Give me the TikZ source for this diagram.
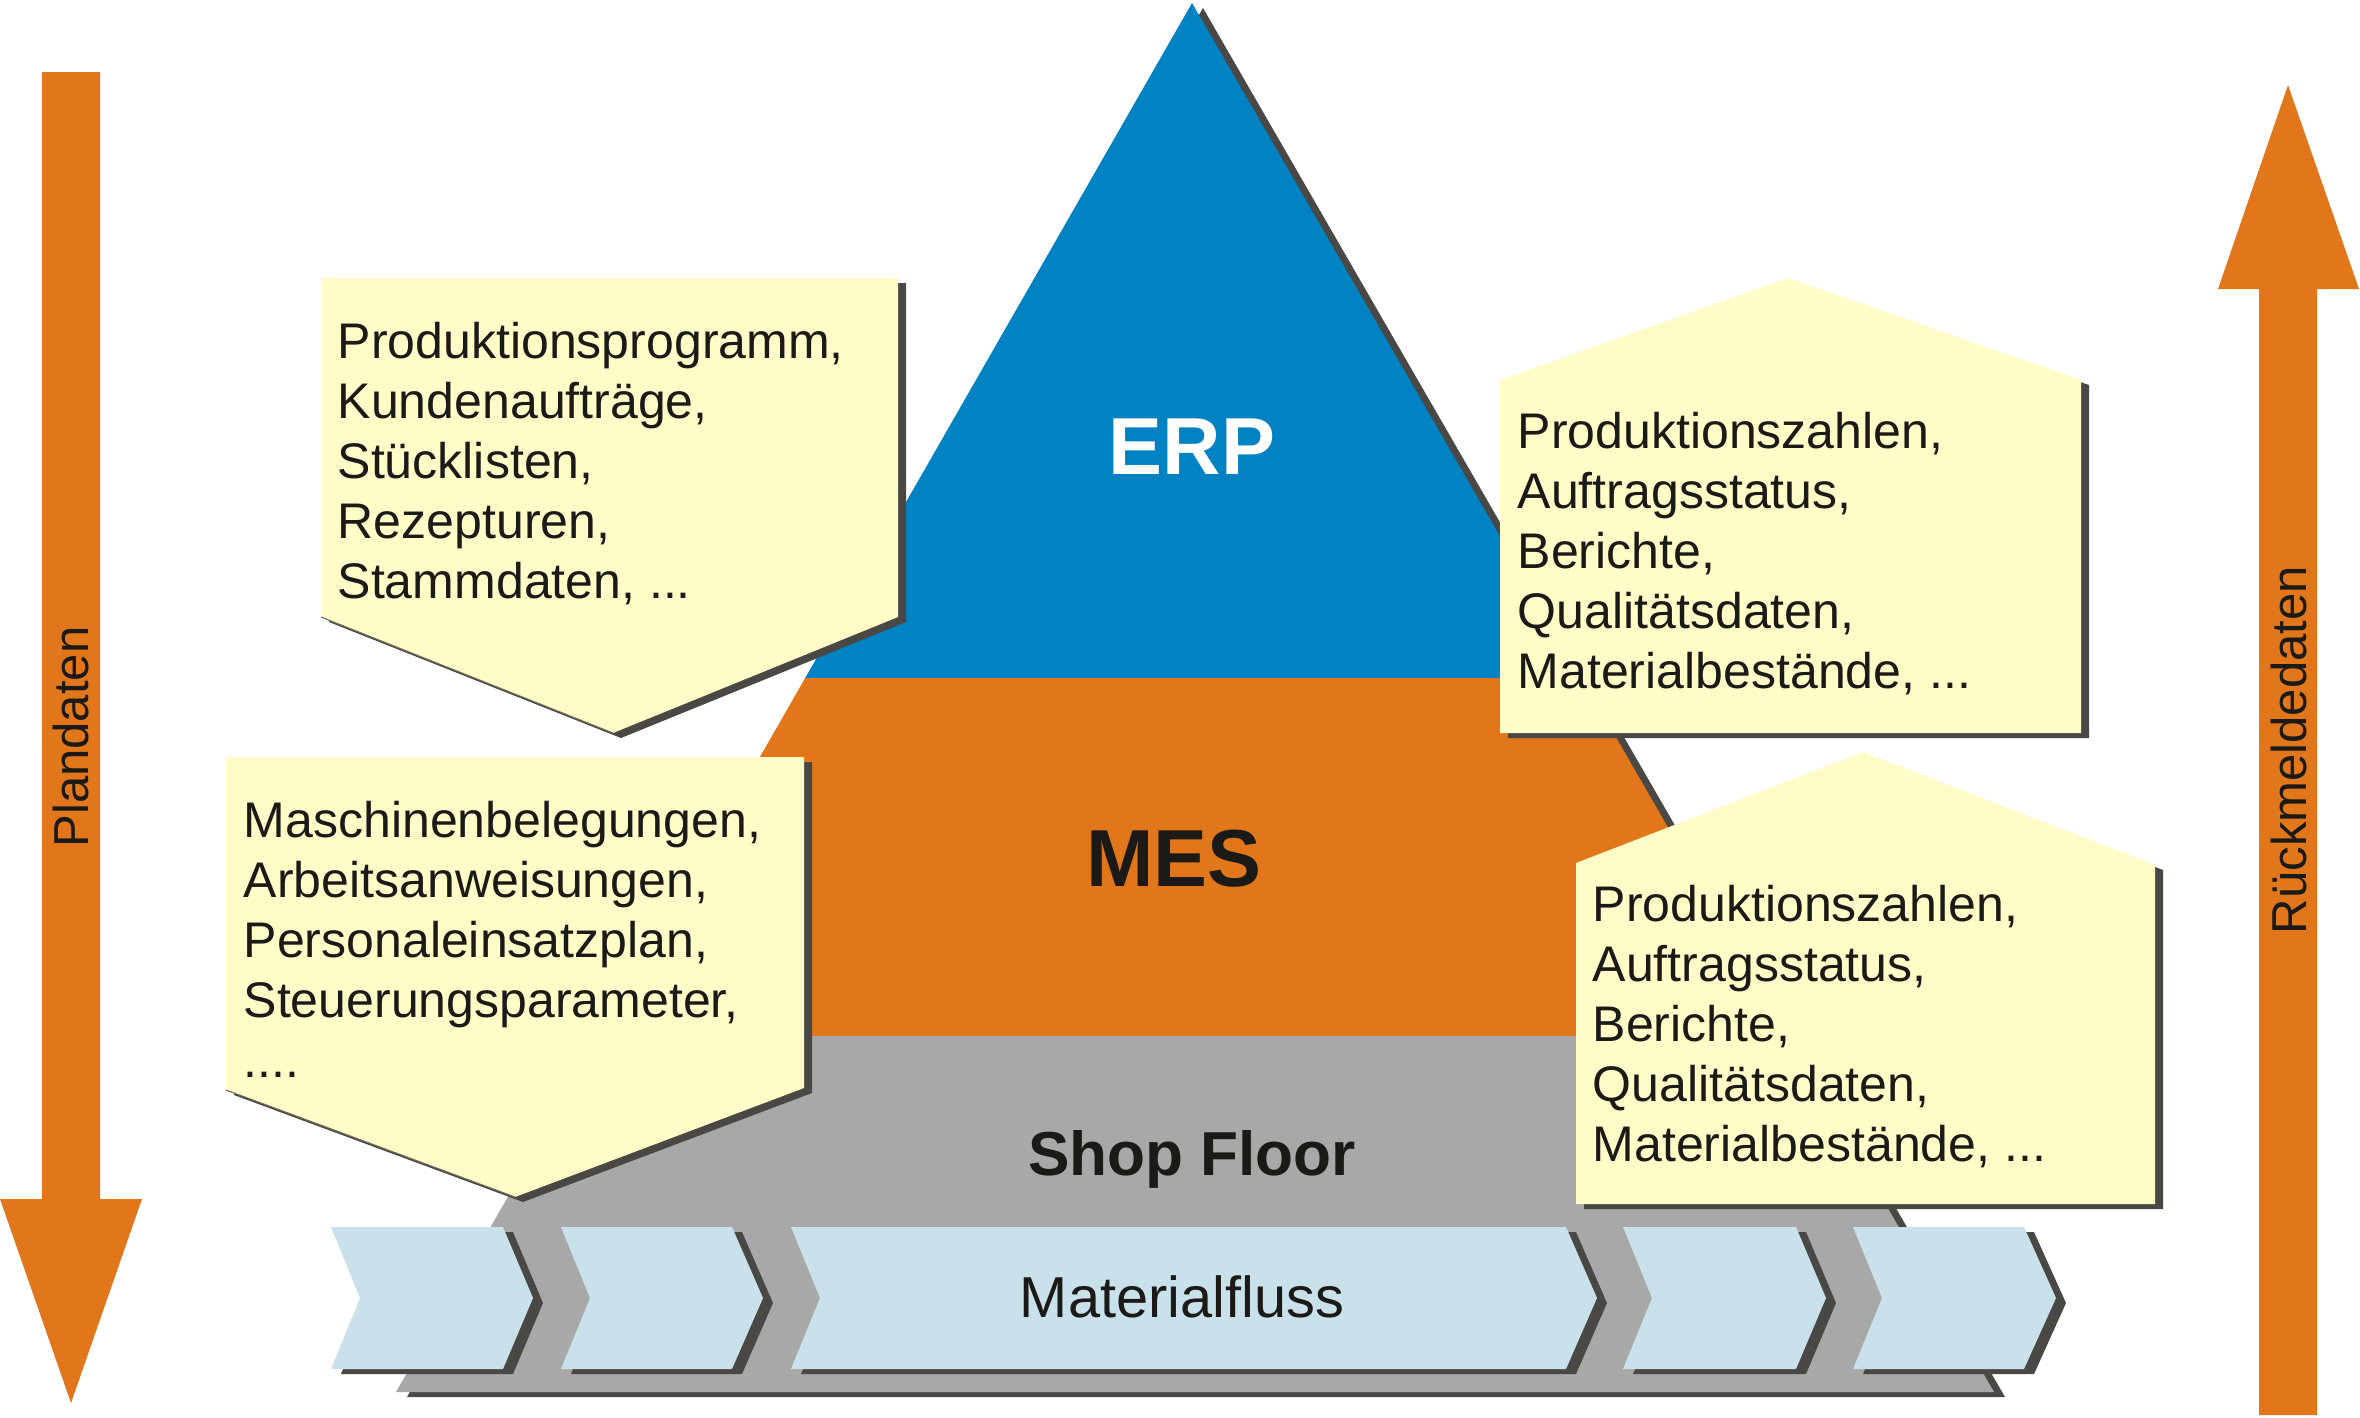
\documentclass[tikz,border=0pt]{standalone}
\usepackage{fontspec}
\setmainfont{Liberation Sans}
\usetikzlibrary{calc}
\definecolor{cOrange}{HTML}{E1771A}
\definecolor{cBlue}{HTML}{0082C3}
\definecolor{cGray}{HTML}{A8A8A8}
\definecolor{cShadow}{HTML}{4A4845}
\definecolor{cYellow}{HTML}{FFFCC7}
\definecolor{cLight}{HTML}{C8E1EA}
\definecolor{cText}{HTML}{1C1A17}
\definecolor{cEdge}{HTML}{6E6A58}
\tikzset{
  calltext/.style={anchor=base west, inner sep=0pt, text=cText,
    font=\fontsize{14.23pt}{17.07pt}\selectfont},
  arrowtext/.style={rotate=90, inner sep=0pt, text=cText,
    font=\fontsize{13.95pt}{16pt}\selectfont},
  layertext/.style={inner sep=0pt, font=\bfseries\fontsize{23pt}{23pt}\selectfont},
}
\newcommand\mychev[3]{%
  \fill[cShadow] ({#1+10},1232) -- ({#2+10},1232) -- ({#3+10},1303) -- ({#2+10},1374) -- ({#1+10},1374) -- ({#1+39},1303) -- cycle;
  \fill[cLight] (#1,1227) -- (#2,1227) -- (#3,1298) -- (#2,1369) -- (#1,1369) -- ({#1+29},1298) -- cycle;
}
\begin{document}
\begin{tikzpicture}[x=0.01cm,y=-0.01cm]
\useasboundingbox (0,0) rectangle (2360,1417);
\fill[white] (0,0) rectangle (2360,1417);

% side arrows
\fill[cOrange] (42,72) -- (100,72) -- (100,1199) -- (142,1199) -- (71,1403) -- (0,1199) -- (42,1199) -- cycle;
\fill[cOrange] (2259,1415) -- (2259,289) -- (2218,289) -- (2288,85) -- (2359,289) -- (2317,289) -- (2317,1415) -- cycle;
\node[arrowtext] (plan) at (71,737) {Plandaten};
\node[arrowtext] (rueck) at (2289,750) {Rückmeldedaten};

% pyramid
\coordinate (Ap) at (1192,3);
\coordinate (BL) at (396,1392);
\coordinate (BR) at (1994,1392);
\coordinate (L1) at ($(Ap)!0.4860!(BL)$);
\coordinate (R1) at ($(Ap)!0.4860!(BR)$);
\coordinate (L2) at ($(Ap)!0.7437!(BL)$);
\coordinate (R2) at ($(Ap)!0.7437!(BR)$);
\fill[cShadow] ([shift={(11,5)}]Ap) -- ([shift={(11,5)}]BR) -- ([shift={(11,5)}]BL) -- cycle;
\fill[cBlue] (Ap) -- (R1) -- (L1) -- cycle;
\fill[cOrange] (L1) -- (R1) -- (R2) -- (L2) -- cycle;
\fill[cGray] (L2) -- (R2) -- (BR) -- (BL) -- cycle;

\node[layertext, text=white] (erp) at (1192,447) {ERP};
\node[layertext, text=cText] (mes) at (1174,859) {MES};
\node[inner sep=0pt, anchor=base, text=cText, font=\bfseries\fontsize{17.67pt}{18pt}\selectfont] (shop) at (1192,1175) {Shop Floor};

% material flow chevrons
\mychev{331}{503}{533}
\mychev{561}{732}{763}
\mychev{791}{1566}{1597}
\mychev{1623}{1796}{1826}
\mychev{1853}{2024}{2056}
\node[inner sep=0pt, anchor=base, text=cText, font=\fontsize{16.42pt}{18pt}\selectfont] (flow) at (1182,1317) {Materialfluss};

% callout A (top left)
\fill[cShadow] (329,283) -- (906,283) -- (906,622) -- (621,738) -- (329,622) -- cycle;
\fill[cYellow] (321,278) -- (898,278) -- (898,617) -- (613,733) -- (321,617) -- cycle;
\draw[cEdge, line width=0.3pt] (321,617) -- (613,733);
\node[calltext] (ta) at (337,358) {\vtop{\hbox{Produktionsprogramm,}\hbox{Kundenaufträge,}\hbox{Stücklisten,}\hbox{Rezepturen,}\hbox{Stammdaten, ...}}};

% callout B (top right)
\fill[cShadow] (1508,385) -- (1796,283) -- (2089,385) -- (2089,738) -- (1508,738) -- cycle;
\fill[cYellow] (1500,380) -- (1788,278) -- (2081,380) -- (2081,733) -- (1500,733) -- cycle;
\node[calltext] (tb) at (1517,448) {\vtop{\hbox{Produktionszahlen,}\hbox{Auftragsstatus,}\hbox{Berichte,}\hbox{Qualitätsdaten,}\hbox{Materialbestände, ...}}};

% callout C (bottom left)
\fill[cShadow] (234,762) -- (812,762) -- (812,1093) -- (523,1202) -- (234,1095) -- cycle;
\fill[cYellow] (226,757) -- (804,757) -- (804,1088) -- (515,1197) -- (226,1090) -- cycle;
\draw[cEdge, line width=0.3pt] (226,1090) -- (515,1197);
\node[calltext] (tc) at (243,837) {\vtop{\hbox{Maschinenbelegungen,}\hbox{Arbeitsanweisungen,}\hbox{Personaleinsatzplan,}\hbox{Steuerungsparameter,}\hbox{....}}};

% callout D (bottom right)
\fill[cShadow] (1584,868) -- (1871,757) -- (2163,870) -- (2163,1209) -- (1584,1209) -- cycle;
\fill[cYellow] (1576,863) -- (1863,752) -- (2155,865) -- (2155,1204) -- (1576,1204) -- cycle;
\node[calltext] (td) at (1592,921) {\vtop{\hbox{Produktionszahlen,}\hbox{Auftragsstatus,}\hbox{Berichte,}\hbox{Qualitätsdaten,}\hbox{Materialbestände, ...}}};
\end{tikzpicture}
\end{document}
